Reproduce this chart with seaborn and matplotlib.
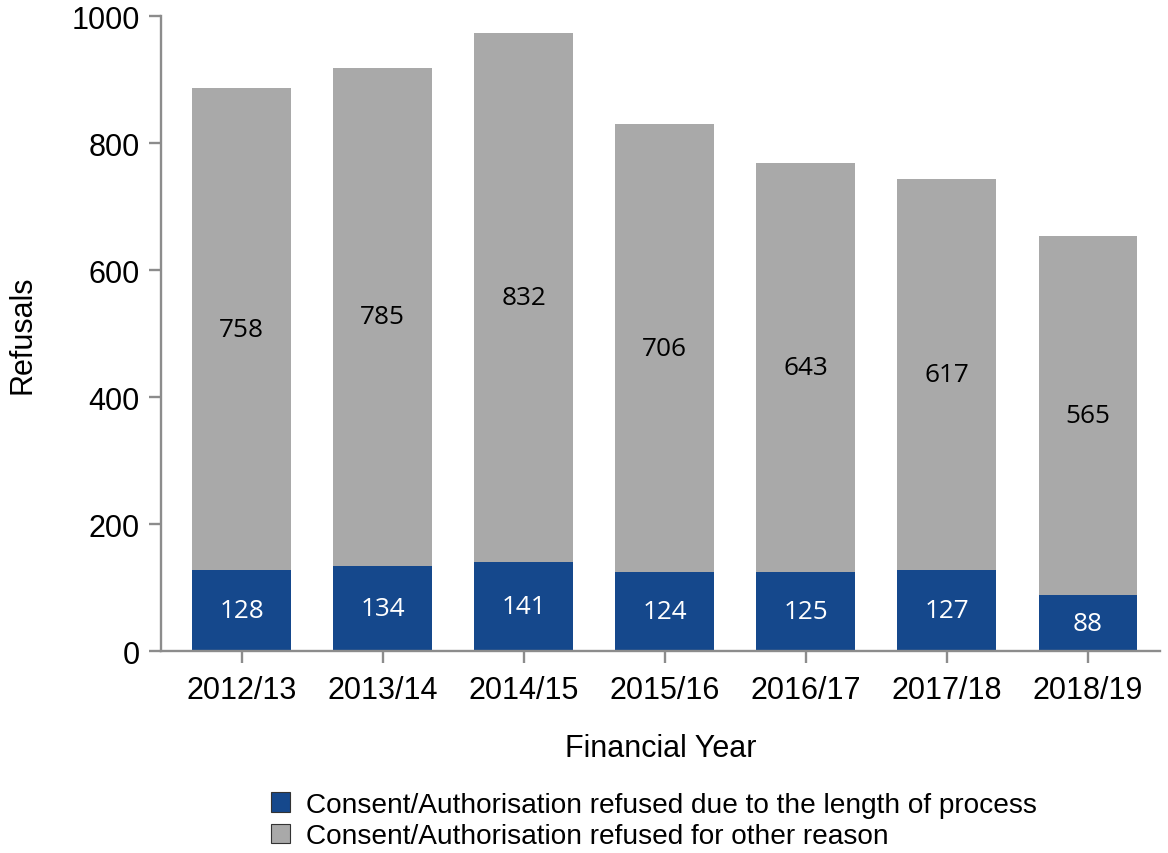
import seaborn as sns
import matplotlib.pyplot as plt
import matplotlib.patches as mpatches
import pandas as pd

years = ["2012/13", "2013/14", "2014/15", "2015/16", "2016/17", "2017/18", "2018/19"]
length_of_process = [128, 134, 141, 124, 125, 127, 88]
other_reason = [758, 785, 832, 706, 643, 617, 565]

blue = "#15488c"
grey = "#a9a9a9"
axis_grey = "#8c8c8c"

df = pd.DataFrame({"year": years, "length": length_of_process, "other": other_reason})
df["total"] = df["length"] + df["other"]

sns.set_style("white")
plt.rcParams["font.family"] = ["Liberation Sans", "DejaVu Sans"]
plt.rcParams["text.color"] = "black"
plt.rcParams["axes.labelcolor"] = "black"

fig = plt.figure(figsize=(11.68, 8.54), dpi=100)
ax = fig.add_axes([0.138, 0.2365, 0.855, 0.7435])

sns.barplot(data=df, x="year", y="total", color=grey, saturation=1, width=0.7,
            linewidth=0, edgecolor="none", ax=ax)
sns.barplot(data=df, x="year", y="length", color=blue, saturation=1, width=0.7,
            linewidth=0, edgecolor="none", ax=ax)

for i, (b, o) in enumerate(zip(length_of_process, other_reason)):
    ax.text(i, b / 2, str(b), ha="center", va="center", color="white",
            fontsize=18.8, family="Open Sans")
    ax.text(i, b + o / 2, str(o), ha="center", va="center", color="black",
            fontsize=18.8, family="Open Sans")

ax.set_ylim(0, 1000)
ax.set_xlim(-0.57, 6.51)
ax.set_yticks([0, 200, 400, 600, 800, 1000])

for side in ["top", "right"]:
    ax.spines[side].set_visible(False)
for side in ["left", "bottom"]:
    ax.spines[side].set_color(axis_grey)
    ax.spines[side].set_linewidth(1.7)

ax.tick_params(axis="both", direction="out", length=8.5, width=1.7, color=axis_grey,
               labelsize=22, labelcolor="black", bottom=True, left=True)
ax.tick_params(axis="x", pad=9)
ax.tick_params(axis="y", pad=7)

ax.set_xlabel("Financial Year", fontsize=22, labelpad=20)
ax.set_ylabel("Refusals", fontsize=22, labelpad=24)

handles = [
    mpatches.Patch(facecolor=blue, edgecolor="#333333", linewidth=0.8,
                   label="Consent/Authorisation refused due to the length of process"),
    mpatches.Patch(facecolor=grey, edgecolor="#333333", linewidth=0.8,
                   label="Consent/Authorisation refused for other reason"),
]
fig.legend(handles=handles, loc="upper left", bbox_to_anchor=(0.222, 0.085),
           frameon=False, fontsize=20.2, handlelength=0.7, handleheight=0.7,
           handletextpad=0.55, labelspacing=0.2, borderaxespad=0)

fig.savefig("out.png", dpi=100)
